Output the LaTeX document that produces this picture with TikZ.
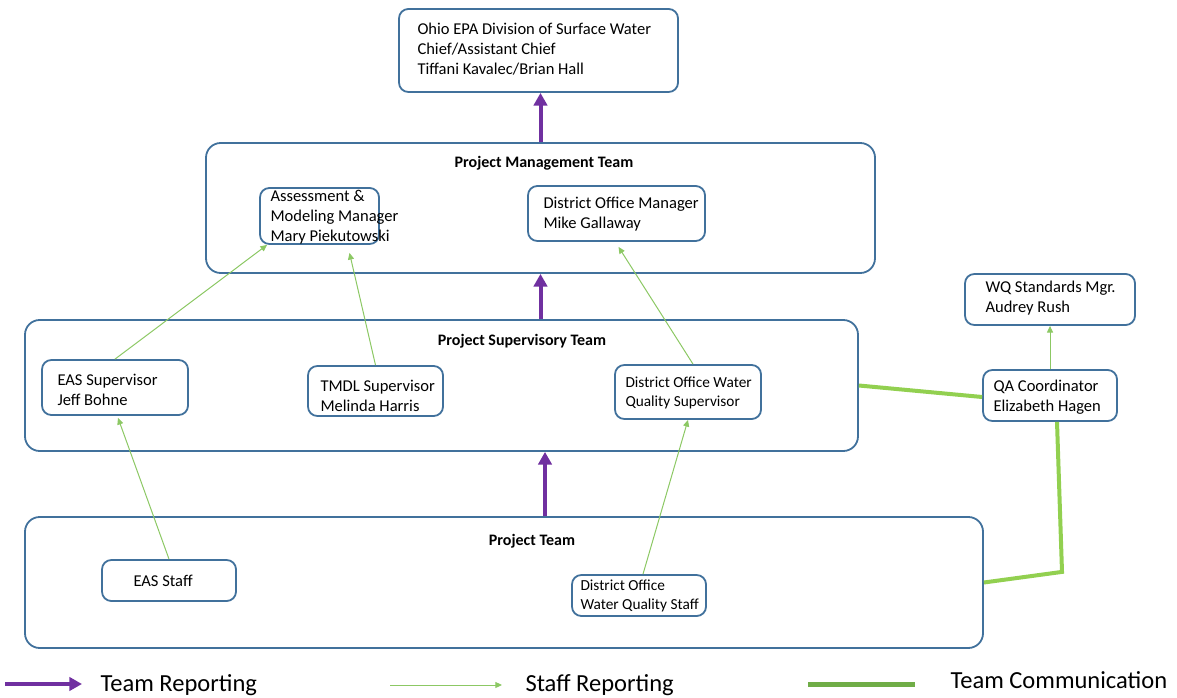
\documentclass[tikz,border=0pt]{standalone}
\usepackage{fontspec}
\setmainfont{Carlito}
\usetikzlibrary{arrows.meta,calc,fit}

\definecolor{boxblue}{RGB}{65,113,156}
\definecolor{teampurple}{RGB}{112,48,160}
\definecolor{staffgreen}{RGB}{140,200,100}
\definecolor{comgreen}{RGB}{146,208,80}
\definecolor{legendgreen}{RGB}{112,173,71}

\tikzset{every picture/.style={line width=0.75pt}}
\tikzset{
	box/.style={draw=boxblue, line width=1.35pt, rounded corners=7pt, inner sep=0pt},
	lbl/.style={anchor=west, align=left, inner sep=0pt, font=\fontsize{12.4}{15}\selectfont},
	smlbl/.style={lbl, font=\fontsize{11.5}{14}\selectfont},
	ttl/.style={inner sep=0pt, font=\bfseries\fontsize{12}{14}\selectfont},
	lgd/.style={anchor=west, inner sep=0pt, font=\fontsize{18.4}{20}\selectfont},
	teamrep/.style={draw=teampurple, line width=3pt, -{Triangle[length=9.5pt,width=10pt]}},
	staffrep/.style={draw=staffgreen, line width=0.75pt, -{Triangle[length=5pt,width=4.5pt]}},
	teamcom/.style={draw=comgreen, line width=3pt},
}

\begin{document}
\begin{tikzpicture}[x=0.75pt,y=0.75pt,yscale=-1,xscale=1]
	\useasboundingbox (0,0) rectangle (1177,698);

	%Shape: Team boxes
	\node (pmt) [box, rounded corners=11pt, fit={(206,143) (875,273)}] {};
	\node (pst) [box, rounded corners=11pt, fit={(25,320) (858,451)}] {};
	\node (pt) [box, rounded corners=11pt, fit={(25,517) (983,648)}] {};
	%Shape: Person boxes
	\node (top) [box, fit={(399,9) (678,92)}] {};
	\node (asm) [box, fit={(260,188) (379,244)}] {};
	\node (dom) [box, fit={(528,186) (705,241)}] {};
	\node (eassup) [box, fit={(42,360) (188,415)}] {};
	\node (tmdl) [box, fit={(308,366) (443,416)}] {};
	\node (dowqsup) [box, fit={(615,365) (761,419)}] {};
	\node (wqs) [box, fit={(965,274) (1135,325)}] {};
	\node (qa) [box, fit={(983,370) (1117,421)}] {};
	\node (easstaff) [box, fit={(102,560) (236,601)}] {};
	\node (dowqstaff) [box, fit={(572,575) (706,616)}] {};

	% Text Node
	\node (toptxt) [lbl] at (417,49) {Ohio EPA Division of Surface Water\\Chief/Assistant Chief\\Tiffani Kavalec/Brian Hall};
	\node (pmttxt) [ttl] at (544,163) {Project Management Team};
	\node (asmtxt) [lbl] at (270,217) {Assessment \&\\Modeling Manager\\Mary Piekutowski};
	\node (domtxt) [lbl] at (543,214) {District Office Manager\\Mike Gallaway};
	\node (psttxt) [ttl] at (522,341) {Project Supervisory Team};
	\node (eassuptxt) [lbl] at (57,390) {EAS Supervisor\\Jeff Bohne};
	\node (tmdltxt) [lbl] at (320,396) {TMDL Supervisor\\Melinda Harris};
	\node (dowqsuptxt) [smlbl] at (625,393) {District Office Water\\Quality Supervisor};
	\node (wqstxt) [lbl] at (985,298) {WQ Standards Mgr.\\Audrey Rush};
	\node (qatxt) [lbl] at (993,397) {QA Coordinator\\Elizabeth Hagen};
	\node (pttxt) [ttl] at (532,541) {Project Team};
	\node (easstafftxt) [lbl] at (133,581) {EAS Staff};
	\node (dowqstafftxt) [smlbl] at (580,596) {District Office\\Water Quality Staff};

	%Team reporting
	\draw [teamrep] (pmt.north) -- (pmt.north |- top.south);
	\draw [teamrep] (pst.north -| pmt.south) -- (pmt.south);
	\draw [teamrep] ($(pt.north)+(41,0)$) -- ($(pst.south -| pt.north)+(41,0)$);

	%Staff reporting
	\draw [staffrep] (eassup.north) -- ($(asm.south west)+(8,0)$);
	\draw [staffrep] (tmdl.north) -- ($(asm.south)+(30,8)$);
	\draw [staffrep] ($(dowqsup.north)+(5,0)$) -- ($(dom.south)+(2,5)$);
	\draw [staffrep] (easstaff.north) -- ($(eassup.south)+(3,2)$);
	\draw [staffrep] ($(dowqstaff.north)+(4,0)$) -- (dowqsup.south);
	\draw [staffrep] (qa.north) -- (wqs.south);

	%Team communication
	\draw [teamcom] (pst.east) -- ($(qa.west)+(0,1.5)$);
	\draw [teamcom] ($(qa.south)+(7,0)$) -- ($(qa.south)+(12,150)$) -- (pt.east);

	%Legend
	\coordinate (lgtr) at (5,684);
	\coordinate (lgsr) at (390,685);
	\coordinate (lgtc) at (808,684);
	\node (lgtrtxt) [lgd] at (100,685) {Team Reporting};
	\node (lgsrtxt) [lgd] at (525,685) {Staff Reporting};
	\node (lgtctxt) [lgd] at (950,680) {Team Communication};
	\draw [teamrep, line width=3.5pt] (lgtr) -- ($(lgtr)+(77,0)$);
	\draw [staffrep] (lgsr) -- ($(lgsr)+(112,0)$);
	\draw [draw=legendgreen, line width=3.75pt] (lgtc) -- ($(lgtc)+(107,0)$);

\end{tikzpicture}
\end{document}
